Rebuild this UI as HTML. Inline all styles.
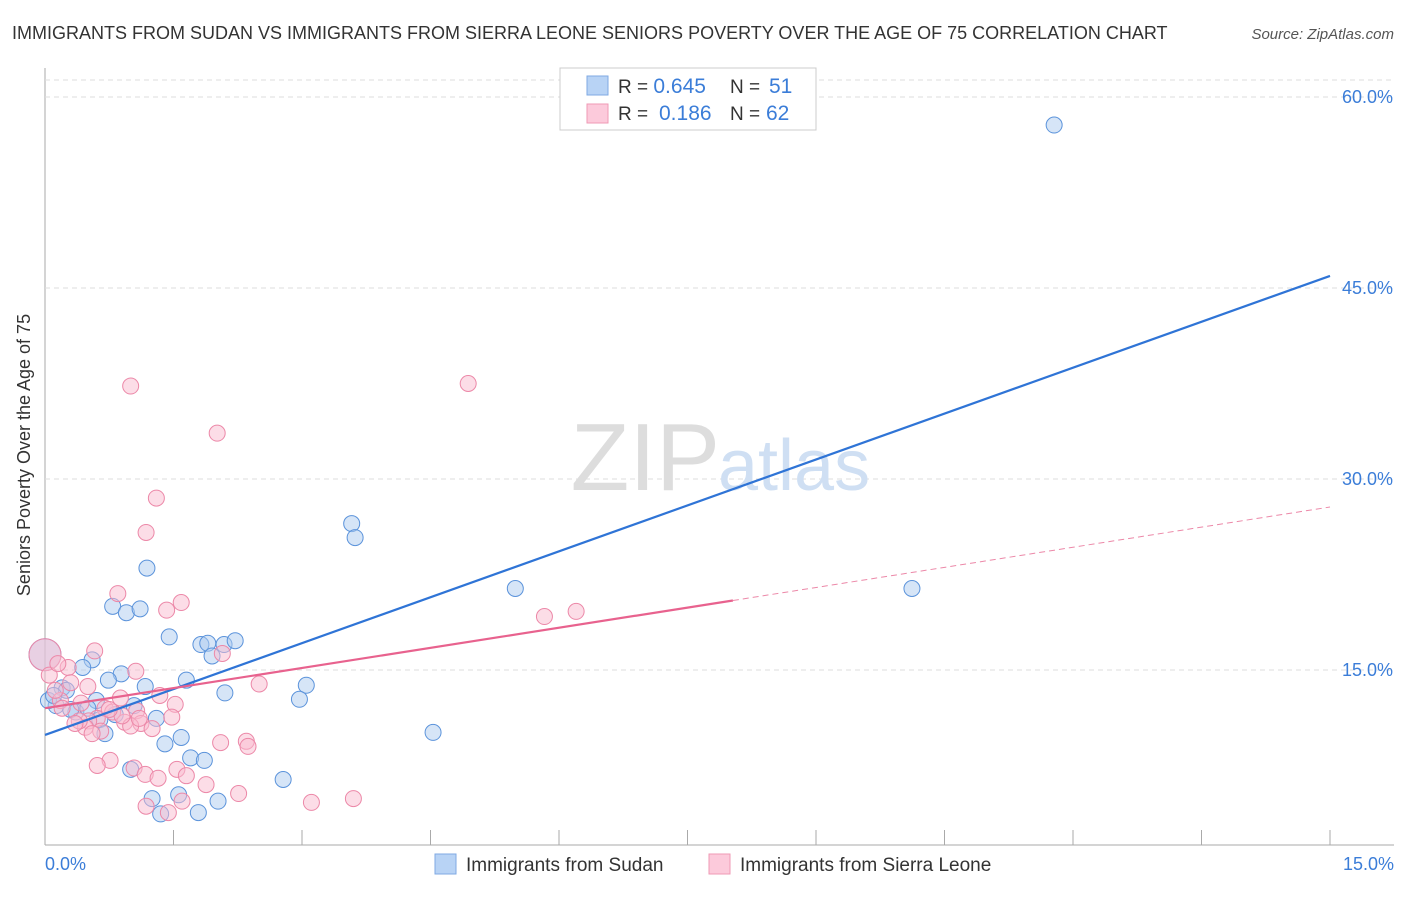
<!DOCTYPE html>
<html><head><meta charset="utf-8"><style>
body{margin:0;background:#fff;font-family:"Liberation Sans",sans-serif;}
svg text{font-family:"Liberation Sans",sans-serif;}
</style></head><body>
<svg width="1406" height="892" xmlns="http://www.w3.org/2000/svg">
<text x="12" y="39" font-size="18" fill="#333">IMMIGRANTS FROM SUDAN VS IMMIGRANTS FROM SIERRA LEONE SENIORS POVERTY OVER THE AGE OF 75 CORRELATION CHART</text>
<text x="1394" y="39" font-size="15" fill="#555" font-style="italic" text-anchor="end">Source: ZipAtlas.com</text>
<g id="grid"></g>
<text x="720" y="490" font-size="96" fill="#ddd" text-anchor="end" font-family="Liberation Serif,serif">ZIP</text>
<text x="718" y="490" font-size="72" fill="#cfdff3">atlas</text>
<g id="pts"></g>
<g id="lines"></g>
<text x="30" y="455" font-size="18" fill="#333" text-anchor="middle" transform="rotate(-90 30 455)">Seniors Poverty Over the Age of 75</text>
<text x="45" y="870" font-size="18" fill="#3b7dd8">0.0%</text>
<text x="1394" y="870" font-size="18" fill="#3b7dd8" text-anchor="end">15.0%</text>
<g>
<rect x="560" y="68" width="256" height="62" fill="#fff" stroke="#ccc"/>
<rect x="587" y="76" width="21" height="19" fill="#b8d3f5" stroke="#7fa9e3"/>
<rect x="587" y="104" width="21" height="19" fill="#fccadb" stroke="#ef9ab5"/>
<text x="618" y="93" font-size="19" fill="#333">R = <tspan fill="#3b7dd8" font-size="21">0.645</tspan><tspan x="730">N = </tspan><tspan x="769" fill="#3b7dd8" font-size="21">51</tspan></text>
<text x="618" y="120" font-size="19" fill="#333">R = <tspan x="659" fill="#3b7dd8" font-size="21">0.186</tspan><tspan x="730">N = </tspan><tspan x="766" fill="#3b7dd8" font-size="21">62</tspan></text>
</g>
<g>
<rect x="435" y="854" width="21" height="20" fill="#b8d3f5" stroke="#7fa9e3"/>
<text x="466" y="871" font-size="19" fill="#333">Immigrants from Sudan</text>
<rect x="709" y="854" width="21" height="20" fill="#fccadb" stroke="#ef9ab5"/>
<text x="740" y="871" font-size="19" fill="#333">Immigrants from Sierra Leone</text>
</g>
</svg>
<script>
const yTicks=[15,30,45,60];
const xTicks=[0,1.5,3,4.5,6,7.5,9,10.5,12,13.5,15];
const sudanX=[11.78,3.58,3.62,5.49,10.12,1.19,0.79,0.95,1.11,1.45,1.82,1.90,2.09,2.22,1.95,0.55,0.44,0.89,0.74,1.65,3.05,1.17,0.20,0.25,2.10,2.97,0.60,0.13,1.04,0.36,0.64,1.30,4.53,0.70,1.59,1.40,1.70,1.86,1.00,2.78,1.25,1.56,2.02,1.35,1.79,0.0,0.04,0.30,0.82,0.5,0.1];
const sudanY=[57.8,26.5,25.4,21.4,21.4,23.0,20.0,19.5,19.8,17.6,17.0,17.1,17.0,17.3,16.1,15.8,15.2,14.7,14.2,14.2,13.8,13.7,13.6,13.4,13.2,12.7,12.6,12.2,12.2,11.7,11.1,11.2,10.1,10.0,9.7,9.2,8.1,7.9,7.2,6.4,4.9,5.2,4.7,3.7,3.8,16.2,12.6,11.9,11.5,12.0,13.0];
const leoneX=[4.94,1.00,2.01,1.30,1.18,0.85,1.59,1.42,6.20,5.83,0.58,2.07,0.0,0.27,1.06,0.50,2.50,1.34,0.88,1.52,0.70,1.07,0.79,1.48,0.61,0.93,1.12,0.51,0.47,2.05,2.35,2.37,0.76,0.61,1.04,1.17,1.32,1.54,1.65,1.88,2.26,1.60,1.18,1.44,3.11,3.60,0.18,0.12,0.30,0.40,0.65,1.0,0.9,0.2,0.35,0.75,1.25,0.05,0.55,1.1,0.42,0.15];
const leoneY=[37.5,37.3,33.6,28.5,25.8,21.0,20.3,19.7,19.6,19.2,16.5,16.3,16.2,15.2,14.9,13.7,13.9,13.0,12.8,12.3,12.0,11.8,11.7,11.3,11.2,10.9,10.8,11.0,10.5,9.3,9.4,9.0,7.9,7.5,7.3,6.8,6.5,7.2,6.7,6.0,5.3,4.7,4.3,3.8,4.6,4.9,12.6,13.4,14.0,11.0,10.2,10.6,11.4,12.0,10.8,11.9,10.4,14.6,10.0,11.2,12.4,15.5];
const sudanLine=[9.9,45.95];
const leoneLine=[12.0,27.8];
const leoneSolidEnd=8.03;
const NS='http://www.w3.org/2000/svg';
function sx(v){return 45+v/15*1285;}
function sy(v){return 861-v*191/15;}
function mk(t,a,p){const e=document.createElementNS(NS,t);for(const k in a)e.setAttribute(k,a[k]);p.appendChild(e);return e;}
const grid=document.getElementById('grid');
mk('line',{x1:45,y1:68,x2:45,y2:845,stroke:'#aaa'},grid);
mk('line',{x1:45,y1:845,x2:1394,y2:845,stroke:'#aaa'},grid);
mk('line',{x1:45,y1:80,x2:1394,y2:80,stroke:'#ddd','stroke-dasharray':'5,4'},grid);
for(const t of yTicks){
 const l=mk('line',{x1:45,y1:sy(t),x2:1394,y2:sy(t),stroke:'#ddd','stroke-dasharray':'5,4'},grid);
 
 
 const tx=mk('text',{x:1393,y:sy(t)+6,'font-size':18,fill:'#3b7dd8','text-anchor':'end'},grid);
 tx.textContent=t.toFixed(1)+'%';
 
 
}
for(const t of xTicks){
 const l=mk('line',{x1:sx(t),y1:830,x2:sx(t),y2:845,stroke:'#aaa'},grid);
 
 
}
const pts=document.getElementById('pts');
function dots(X,Y,fill,stroke,name){
 for(let i=0;i<X.length;i++){
  const big=(X[i]===0);
  const c=mk('circle',{cx:sx(X[i]),cy:sy(Y[i]),r:big?16:8,fill:fill,'fill-opacity':0.5,stroke:stroke,'stroke-width':1},pts);
  
  
 }
}
dots(sudanX,sudanY,'#aecbf0','#5b93db','sudan-point');
dots(leoneX,leoneY,'#f9bcd0','#ec88a8','sierra-leone-point');
const lines=document.getElementById('lines');
const b=mk('line',{x1:sx(0),y1:sy(sudanLine[0]),x2:sx(15),y2:sy(sudanLine[1]),stroke:'#2f74d6','stroke-width':2.2},lines);


const ly=v=>leoneLine[0]+(leoneLine[1]-leoneLine[0])*v/15;
const p1=mk('line',{x1:sx(0),y1:sy(ly(0)),x2:sx(leoneSolidEnd),y2:sy(ly(leoneSolidEnd)),stroke:'#e8628e','stroke-width':2.2},lines);


const p2=mk('line',{x1:sx(leoneSolidEnd),y1:sy(ly(leoneSolidEnd)),x2:sx(15),y2:sy(ly(15)),stroke:'#ec88a8','stroke-width':1,'stroke-dasharray':'6,4'},lines);


</script>
</body></html>
